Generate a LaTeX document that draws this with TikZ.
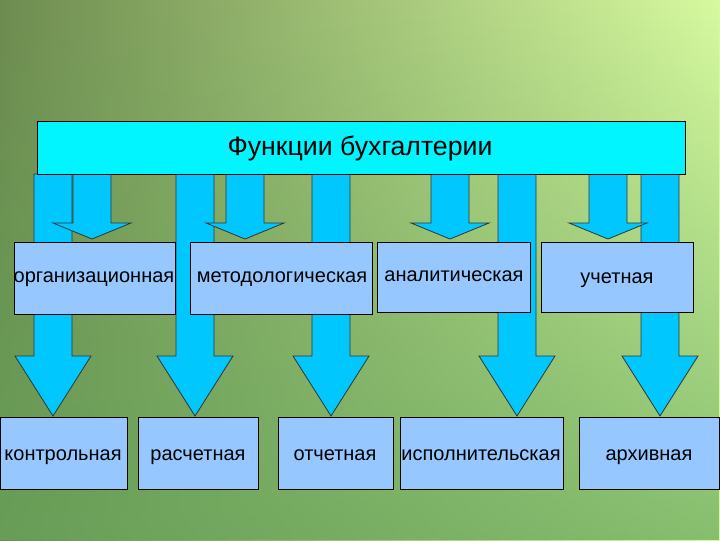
\documentclass[tikz,border=0pt]{standalone}
\usepackage{fontspec}
\usetikzlibrary{fadings}
\setmainfont{Liberation Sans}
\definecolor{bgA}{RGB}{110,140,80}
\definecolor{bgB}{RGB}{215,250,160}
\definecolor{bgC}{RGB}{100,165,90}
\definecolor{arrc}{RGB}{0,200,255}
\definecolor{boxc}{RGB}{150,200,255}
\definecolor{topc}{RGB}{0,245,255}
\begin{document}
\begin{tikzpicture}[x=0.75pt,y=-0.75pt,
  box/.style={draw=black,fill=boxc,anchor=north west,inner sep=0pt},
  lbl/.style={font=\fontsize{15}{17}\selectfont,text height=11pt,text depth=3pt,inner sep=0pt},
  arr/.style={draw=black!80,fill=arrc,line width=0.6pt}]
\useasboundingbox (0,0) rectangle (720,540);
\shade[left color=bgA, right color=bgB] (0,0) rectangle (720,540);
\fill[bgC, path fading=north, opacity=0.7] (0,0) rectangle (720,540);
% long arrows
\foreach \c in {53,195,331,517,660}{
  \draw[arr] (\c-19,174) -- (\c+19,174) -- (\c+19,356) -- (\c+38,356) -- (\c,416) -- (\c-38,356) -- (\c-19,356) -- cycle;}
% short arrows
\foreach \c in {92,245,450,608}{
  \draw[arr] (\c-19,174) -- (\c+19,174) -- (\c+19,223) -- (\c+39,223) -- (\c,239) -- (\c-39,223) -- (\c-19,223) -- cycle;}
\node[box,fill=topc,minimum width=648*0.75pt,minimum height=53*0.75pt] (top) at (37,121) {};
\node[lbl,font=\fontsize{20}{22}\selectfont,text height=15pt,text depth=4pt] (t) at (360,148) {Функции бухгалтерии};
\node[box,minimum width=161*0.75pt,minimum height=72*0.75pt] (m1) at (14,242) {};
\node[lbl] (l1) at (94,277) {организационная};
\node[box,minimum width=182*0.75pt,minimum height=72*0.75pt] (m2) at (190,242) {};
\node[lbl] (l2) at (282,277) {методологическая};
\node[box,minimum width=153*0.75pt,minimum height=70*0.75pt] (m3) at (377,242) {};
\node[lbl] (l3) at (454,276) {аналитическая};
\node[box,minimum width=152*0.75pt,minimum height=70*0.75pt] (m4) at (541,242) {};
\node[lbl] (l4) at (617,278) {учетная};
\node[box,minimum width=127*0.75pt,minimum height=72*0.75pt] (b1) at (0,417) {};
\node[lbl] (k1) at (63,455) {контрольная};
\node[box,minimum width=120*0.75pt,minimum height=72*0.75pt] (b2) at (138,417) {};
\node[lbl] (k2) at (198,455) {расчетная};
\node[box,minimum width=115*0.75pt,minimum height=72*0.75pt] (b3) at (278,417) {};
\node[lbl] (k3) at (335,455) {отчетная};
\node[box,minimum width=163*0.75pt,minimum height=72*0.75pt] (b4) at (400,417) {};
\node[lbl] (k4) at (481,455) {исполнительская};
\node[box,minimum width=140*0.75pt,minimum height=72*0.75pt] (b5) at (579,417) {};
\node[lbl] (k5) at (649,455) {архивная};
\end{tikzpicture}
\end{document}
